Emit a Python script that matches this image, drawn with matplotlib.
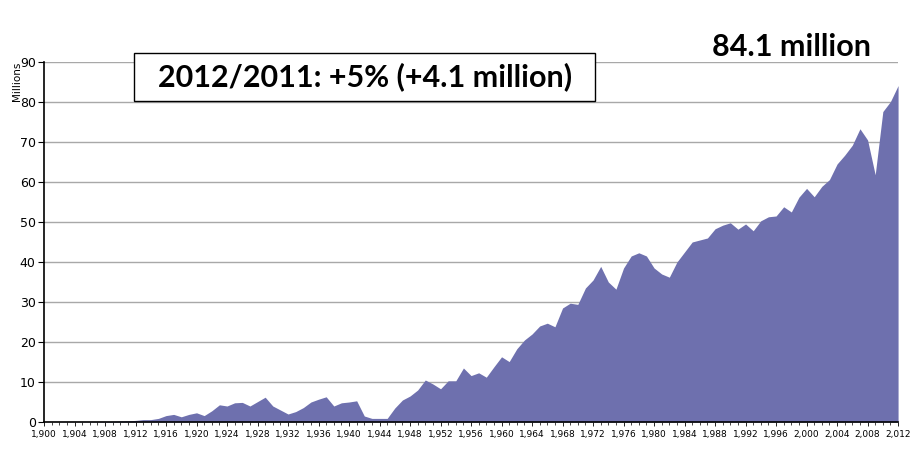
import matplotlib
matplotlib.use("Agg")
import matplotlib.pyplot as plt
from matplotlib.patches import Rectangle
from matplotlib.ticker import MultipleLocator, FuncFormatter

# world vehicle production, millions
years = list(range(1900, 2013))
production = [
    0.01, 0.01, 0.02, 0.03, 0.03, 0.04, 0.05, 0.06, 0.1, 0.15,    # 1900-1909
    0.25, 0.3, 0.4, 0.6, 0.6, 0.9, 1.6, 1.9, 1.3, 1.9,            # 1910-1919
    2.3, 1.6, 2.8, 4.3, 4.0, 4.8, 4.9, 4.0, 5.1, 6.2,             # 1920-1929
    4.0, 3.0, 2.0, 2.6, 3.6, 5.0, 5.7, 6.3, 4.0, 4.8,             # 1930-1939
    5.0, 5.3, 1.5, 0.9, 0.9, 0.9, 3.5, 5.5, 6.5, 8.0,             # 1940-1949
    10.5, 9.5, 8.3, 10.3, 10.3, 13.5, 11.6, 12.3, 11.2, 13.8,     # 1950-1959
    16.3, 15.1, 18.3, 20.5, 22.0, 24.0, 24.7, 23.8, 28.5, 29.7,   # 1960-1969
    29.4, 33.5, 35.5, 38.9, 35.0, 33.2, 38.5, 41.5, 42.3, 41.5,   # 1970-1979
    38.5, 37.0, 36.2, 40.0, 42.5, 45.0, 45.5, 46.0, 48.3, 49.2,   # 1980-1989
    49.8, 48.2, 49.5, 47.8, 50.3, 51.3, 51.5, 53.8, 52.5, 56.2,   # 1990-1999
    58.4, 56.3, 58.9, 60.6, 64.5, 66.7, 69.2, 73.3, 70.5, 61.8,   # 2000-2009
    77.6, 80.1, 84.1,                                             # 2010-2012
]
y_ticks = list(range(0, 100, 10))
box_text = "2012/2011: +5% (+4.1 million)"
total_text = "84.1 million"

fig = plt.figure(figsize=(9.23, 4.59), dpi=100)
ax = fig.add_axes([0.0477, 0.0806, 0.9253, 0.7844])

ax.fill_between(years, production, 0, color="#6e70ae", linewidth=0, zorder=2)

ax.set_xlim(1900, 2012)
ax.set_ylim(0, 90)
ax.set_yticks(y_ticks)
ax.yaxis.grid(True, color="#a8a8a8", linewidth=1, zorder=0)
ax.set_axisbelow(True)

ax.xaxis.set_major_locator(MultipleLocator(4))
ax.xaxis.set_minor_locator(MultipleLocator(1))
ax.xaxis.set_major_formatter(FuncFormatter(lambda v, p: "{:,}".format(int(v))))
ax.tick_params(axis="x", which="major", labelsize=6.5, length=3, width=0.6, pad=3)
ax.tick_params(axis="x", which="minor", length=2, width=0.5)
ax.tick_params(axis="y", labelsize=9, length=4, width=0.8, pad=2)

for s in ["top", "right"]:
    ax.spines[s].set_visible(False)
ax.spines["left"].set_linewidth(1.2)
ax.spines["bottom"].set_linewidth(1.2)

fig.text(0.013, 0.865, "Millions", rotation=90, fontsize=7.5, ha="left", va="top")

# annotation box drawn as its own patch so its size matches the original
fig.patches.append(Rectangle((0.1452, 0.780), 0.4995, 0.1046, transform=fig.transFigure,
                             facecolor="white", edgecolor="black", linewidth=1, zorder=5))
fig.text(0.395, 0.832, box_text, fontsize=22, fontweight="bold", family="Lato",
         ha="center", va="center", zorder=6)
fig.text(0.857, 0.897, total_text, fontsize=22, fontweight="bold", family="Lato",
         ha="center", va="center")

fig.savefig("out.png", dpi=100)
